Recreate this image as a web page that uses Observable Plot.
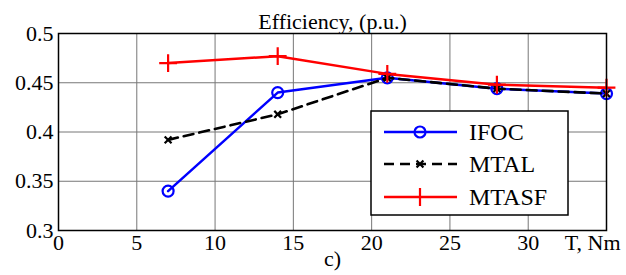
<!DOCTYPE html>
<html><head><meta charset="utf-8">
<script src="https://cdn.jsdelivr.net/npm/d3@7"></script>
<script src="https://cdn.jsdelivr.net/npm/@observablehq/plot@0.6"></script>
<style>body{margin:0;background:#fff} svg{display:block}</style>
</head><body><div id="chart"></div>
<script>
// ---- data ----
const torque = [7, 14, 21, 28, 35];
const ifoc  = [0.340, 0.440, 0.455, 0.444, 0.439];
const mtal  = [0.392, 0.418, 0.455, 0.444, 0.439];
const mtasf = [0.470, 0.477, 0.459, 0.448, 0.445];
const seriesNames = ["IFOC", "MTAL", "MTASF"];
const xTicks = [0, 5, 10, 15, 20, 25, 30, 35];
const xTickLabels = ["0", "5", "10", "15", "20", "25", "30"];
const yTicks = [0.3, 0.35, 0.4, 0.45, 0.5];
const yTickLabels = ["0.3", "0.35", "0.4", "0.45", "0.5"];
const titleText = "Efficiency, (p.u.)";
const xUnitText = "T, Nm";
const captionText = "c)";

// ---- styles ----
const FONT = "Liberation Serif";
const FS = 22;
const styles = {
  IFOC:  {stroke: "#0000ff", dash: null,   symbol: "circle", r: 5.5, sw: 2.5, msw: 2.2},
  MTAL:  {stroke: "#000000", dash: "10,6", symbol: "times",  r: 3.2, sw: 2.6, msw: 2.2},
  MTASF: {stroke: "#ff0000", dash: null,   symbol: "plus",   r: 5.8, sw: 2.5, msw: 2.2}
};
const values = {IFOC: ifoc, MTAL: mtal, MTASF: mtasf};
const rows = seriesNames.flatMap(s => torque.map((t, i) => ({series: s, t, v: values[s][i]})));

const W = 626, H = 275;
const mL = 58, mR = 20, mT = 33, mB = 45;

const marks = [
  Plot.ruleX(xTicks, {stroke: "#777", strokeWidth: 1}),
  Plot.ruleY(yTicks, {stroke: "#777", strokeWidth: 1}),
];
for (const s of seriesNames) {
  const st = styles[s];
  const d = rows.filter(r => r.series === s);
  marks.push(Plot.line(d, {x: "t", y: "v", stroke: st.stroke, strokeWidth: st.sw, strokeDasharray: st.dash}));
  marks.push(Plot.dot(d, {x: "t", y: "v", symbol: () => st.symbol, r: st.r, stroke: st.stroke, strokeWidth: st.msw, fill: "none"}));
}
marks.push(
  Plot.frame({stroke: "black", strokeWidth: 1.5}),
  Plot.axisX(xTicks.slice(0, 7), {label: null, tickSize: 0, tickPadding: 4, fontSize: FS, fill: "black",
    tickFormat: (d, i) => xTickLabels[i]}),
  Plot.axisY(yTicks, {label: null, tickSize: 0, tickPadding: 5, fontSize: FS, fill: "black",
    tickFormat: (d, i) => yTickLabels[i]}),
  Plot.text([xUnitText], {x: 35, frameAnchor: "bottom", lineAnchor: "top", dy: 4, dx: 14, textAnchor: "end", fontSize: FS, fill: "black"}),
  Plot.text([titleText], {frameAnchor: "top", lineAnchor: "bottom", dy: -5, fontSize: FS, fill: "black"}),
  Plot.text([captionText], {frameAnchor: "bottom", dy: 35, fontSize: FS, fill: "black"})
);

const svg = Plot.plot({
  width: W, height: H,
  marginLeft: mL, marginRight: mR, marginTop: mT, marginBottom: mB,
  x: {domain: [0, 35], axis: null},
  y: {domain: [0.3, 0.5], axis: null},
  marks
});

// ---- legend ----
const g = d3.select(svg).append("g").attr("text-anchor", "start");
const lx = 371, ly = 111, lw = 197, lh = 104;
g.append("rect").attr("x", lx).attr("y", ly).attr("width", lw).attr("height", lh)
  .attr("fill", "white").attr("stroke", "black").attr("stroke-width", 1.5);
const rowY = [132, 164, 197];
const symMap = {circle: d3.symbolCircle, times: d3.symbolTimes, plus: d3.symbolPlus};
seriesNames.forEach((s, i) => {
  const st = styles[s];
  const y = rowY[i];
  g.append("line").attr("x1", 384).attr("x2", 457).attr("y1", y).attr("y2", y)
    .attr("stroke", st.stroke).attr("stroke-width", st.sw).attr("stroke-dasharray", st.dash);
  g.append("path").attr("transform", `translate(420,${y})`)
    .attr("d", d3.symbol(symMap[st.symbol], Math.PI * st.r * st.r)())
    .attr("fill", "none").attr("stroke", st.stroke).attr("stroke-width", st.msw);
  g.append("text").attr("x", 469).attr("y", y).attr("dy", "0.35em").attr("text-anchor", "start")
    .attr("font-size", 24).text(s);
});

// serif font everywhere; drop Plot's generated class and stylesheet
svg.querySelectorAll("style").forEach(el => el.remove());
svg.removeAttribute("class");
svg.removeAttribute("style");
svg.setAttribute("font-family", FONT);
svg.querySelectorAll("[font-family]").forEach(el => el.setAttribute("font-family", FONT));
svg.querySelectorAll("text").forEach(el => el.setAttribute("font-family", FONT));

document.getElementById("chart").appendChild(svg);
</script>
</body></html>
